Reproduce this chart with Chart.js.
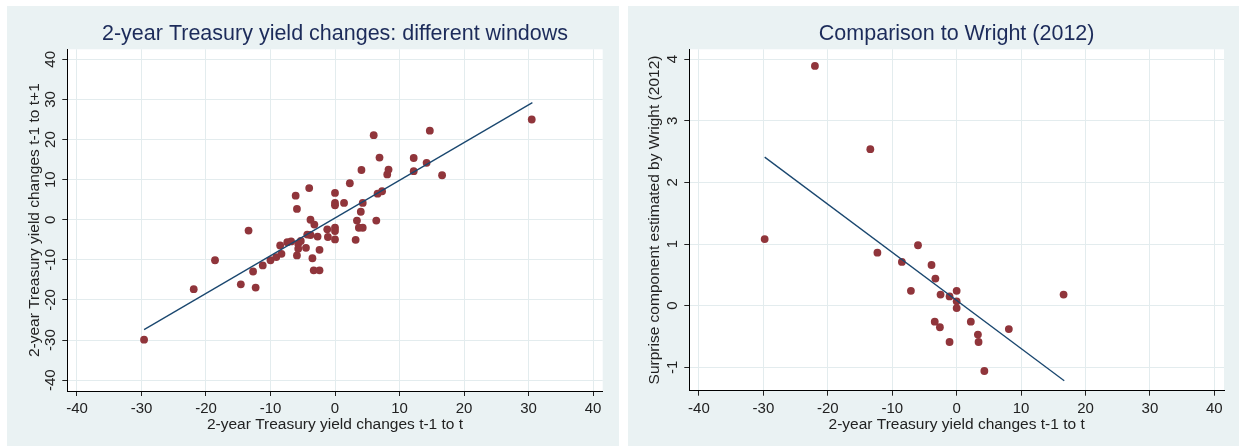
<!DOCTYPE html>
<html>
<head>
<meta charset="utf-8">
<script src="https://cdn.jsdelivr.net/npm/chart.js@4.4.0/dist/chart.umd.min.js"></script>
<style>
  body { margin:0; background:#fff; width:1239px; height:446px; overflow:hidden; position:relative; }
  .panel { position:absolute; top:6px; height:440px; background:#EAF2F3; }
</style>
</head>
<body>
<div class="panel" style="left:7px; width:612px;"><canvas id="chartLeft"></canvas></div>
<div class="panel" style="left:628px; width:611px;"><canvas id="chartRight"></canvas></div>
<script>
// ---- left panel: t-1..t vs t-1..t+1 ----
const xsLeft = [-29.6, -21.9, -18.6, -14.6, -13.4, -12.7, -12.3, -11.2, -10.0, -9.1,
  -8.5, -8.3, -7.4, -6.8, -6.1, -5.9, -5.9, -5.7, -5.3, -5.7,
  -4.5, -4.3, -4.0, -3.8, -3.8, -3.5, -3.3, -3.2, -2.7, -2.4,
  -2.4, -1.2, -1.1, 0, 0, 0, 0, 0, 0, 1.4,
  2.3, 3.2, 3.4, 3.7, 4.0, 4.1, 4.3, 4.3, 6.0, 6.4,
  6.6, 6.9, 7.3, 8.1, 8.3, 12.2, 12.2, 14.2, 14.7, 16.6, 30.5];
const ysLeft = [-29.9, -17.3, -10.1, -16.1, -2.7, -12.9, -16.9, -11.4, -10.1, -9.3,
  -6.4, -8.5, -5.6, -5.4, 6.0, 2.7, -8.9, -6.0, -5.3, -7.2,
  -7.0, -3.7, 7.9, 0, -3.8, -9.6, -12.6, -1.2, -4.2, -7.5,
  -12.6, -2.4, -4.3, 6.7, 4.2, 3.6, -2.0, -2.8, -4.9, 4.2,
  9.1, -5.0, -0.2, -2.0, 2.0, 12.4, 4.2, -2.0, 21.1, -0.2,
  6.5, 15.5, 7.1, 11.3, 12.5, 12.1, 15.4, 14.2, 22.2, 11.1, 25.0];
const fitXLeft = [-29.6, 30.6];
const fitYLeft = [-27.4, 29.2];
const yTicksLeft = [-40, -30, -20, -10, 0, 10, 20, 30, 40];

// ---- right panel: comparison to Wright (2012) ----
const xsRight = [-29.8, -22.0, -13.4, -12.3, -8.5, -7.1, -6.0, -3.9, -3.3, -3.4,
  -2.6, -2.5, -1.1, -1.1, 0, 0, 0, 2.2, 3.3, 3.4, 4.3, 8.1, 16.6];
const ysRight = [1.08, 3.89, 2.54, 0.86, 0.71, 0.24, 0.98, 0.66, 0.44, -0.26,
  -0.35, 0.18, 0.15, -0.59, 0.24, 0.07, -0.04, -0.26, -0.47, -0.59, -1.06, -0.38, 0.18];
const fitXRight = [-29.8, 16.7];
const fitYRight = [2.41, -1.22];
const yTicksRight = [-1, 0, 1, 2, 3, 4];

const xTicks = [-40, -30, -20, -10, 0, 10, 20, 30, 40];

const FONT = "'Liberation Sans', Arial, sans-serif";
const MAROON = '#90353B';
const NAVY = '#1A476F';
const GRID = '#E3ECEE';
const TEXT = '#222';

// white plot region
const plotBg = {
    id: 'plotBg',
    beforeDraw(chart) {
        const a = chart.chartArea;
        chart.ctx.save();
        chart.ctx.fillStyle = '#fff';
        chart.ctx.fillRect(a.left, a.top, a.right - a.left, a.bottom - a.top);
        chart.ctx.restore();
    }
};

// draw y tick labels rotated, Stata style
const rotatedYTicks = {
    id: 'rotatedYTicks',
    afterDraw(chart) {
        const s = chart.scales.y;
        const ctx = chart.ctx;
        ctx.save();
        ctx.fillStyle = TEXT;
        ctx.font = '15px ' + FONT;
        ctx.textAlign = 'center';
        ctx.textBaseline = 'middle';
        s.ticks.forEach(t => {
            ctx.save();
            ctx.translate(s.right - 16, s.getPixelForValue(t.value));
            ctx.rotate(-Math.PI / 2);
            ctx.fillText(String(t.value), 0, 0);
            ctx.restore();
        });
        ctx.restore();
    }
};

function makeChart(id, cfg) {
    const canvas = document.getElementById(id);
    return new Chart(canvas, {
        type: 'scatter',
        data: {
            datasets: [{
                data: cfg.xs.map((x, i) => ({ x: x, y: cfg.ys[i] })),
                backgroundColor: MAROON,
                borderWidth: 0,
                pointRadius: 3.9,
                order: 2
            }, {
                type: 'line',
                data: cfg.fitX.map((x, i) => ({ x: x, y: cfg.fitY[i] })),
                borderColor: NAVY,
                borderWidth: 1.3,
                pointRadius: 0,
                fill: false,
                order: 1
            }]
        },
        options: {
            responsive: true,
            maintainAspectRatio: false,
            animation: false,
            layout: { padding: { top: 0, left: 0, right: cfg.padRight, bottom: 0 } },
            plugins: {
                legend: { display: false },
                tooltip: { enabled: false },
                title: {
                    display: true,
                    text: cfg.title,
                    fullSize: false,
                    color: '#1C2B5A',
                    font: { family: FONT, size: 21.5, weight: 'normal' },
                    padding: { top: 15.1, bottom: 2.4 }
                }
            },
            scales: {
                x: {
                    type: 'linear',
                    min: -41.5, max: 41.5,
                    afterBuildTicks: s => { s.ticks = xTicks.map(v => ({ value: v })); },
                    afterFit: s => { s.height = cfg.xAxisH; },
                    grid: { color: GRID, tickColor: TEXT, tickLength: 5, drawTicks: true },
                    border: { color: '#000', width: 1 },
                    ticks: { color: TEXT, font: { family: FONT, size: 15 }, padding: 4, maxRotation: 0 },
                    title: {
                        display: true,
                        text: '2-year Treasury yield changes t-1 to t',
                        color: TEXT,
                        font: { family: FONT, size: 15.5 },
                        padding: { top: 0, bottom: 12 }
                    }
                },
                y: {
                    type: 'linear',
                    min: cfg.yMin, max: cfg.yMax,
                    afterBuildTicks: s => { s.ticks = cfg.yTicks.map(v => ({ value: v })); },
                    afterFit: s => { s.width = cfg.yAxisW; },
                    grid: { color: GRID, tickColor: TEXT, tickLength: 5, drawTicks: true },
                    border: { color: '#000', width: 1 },
                    ticks: { display: false },
                    title: {
                        display: true,
                        text: cfg.yTitle,
                        color: TEXT,
                        font: { family: FONT, size: 15.5 },
                        padding: { top: cfg.yTitlePad, bottom: 0 }
                    }
                }
            }
        },
        plugins: [plotBg, rotatedYTicks]
    });
}

makeChart('chartLeft', {
    xs: xsLeft, ys: ysLeft, fitX: fitXLeft, fitY: fitYLeft,
    yTicks: yTicksLeft, yMin: -42.7, yMax: 42.5,
    title: '2-year Treasury yield changes: different windows',
    yTitle: '2-year Treasury yield changes t-1 to t+1',
    yAxisW: 60.3, xAxisH: 55, padRight: 16.3, yTitlePad: 18.5
});

makeChart('chartRight', {
    xs: xsRight, ys: ysRight, fitX: fitXRight, fitY: fitYRight,
    yTicks: yTicksRight, yMin: -1.38, yMax: 4.16,
    title: 'Comparison to Wright (2012)',
    yTitle: 'Surprise component estimated by Wright (2012)',
    yAxisW: 61.3, xAxisH: 55.3, padRight: 15, yTitlePad: 17
});
</script>
</body>
</html>
